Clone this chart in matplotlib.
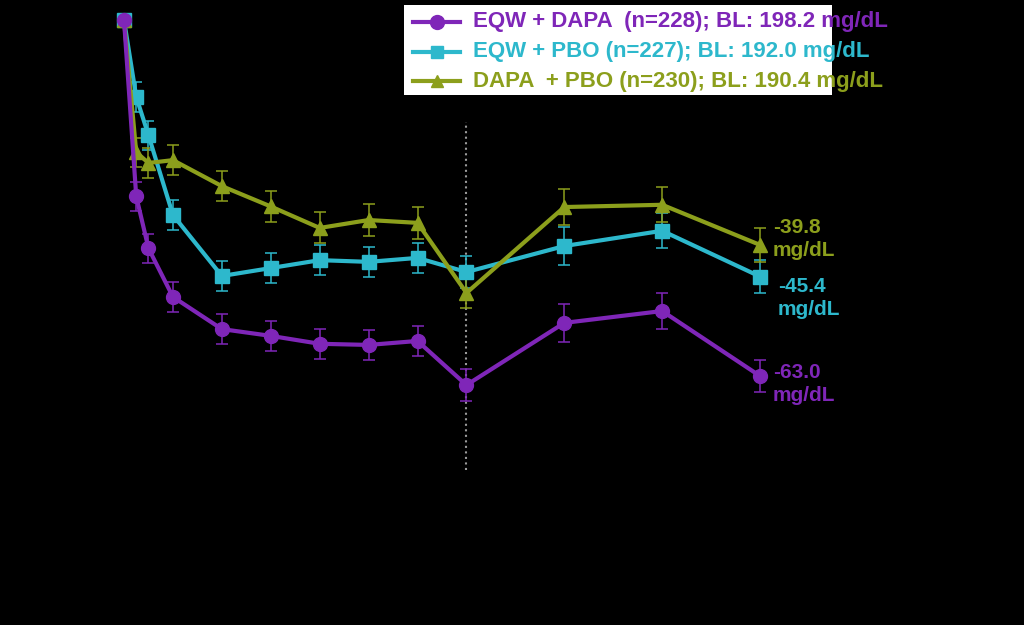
import matplotlib
matplotlib.use("Agg")
import matplotlib.pyplot as plt
from matplotlib.patches import Rectangle
from matplotlib.lines import Line2D

# weeks of visit
weeks = [0, 1, 2, 4, 8, 12, 16, 20, 24, 28, 36, 44, 52]

# change from baseline in FPG (mg/dL)
eqw_dapa = [0, -31.2, -40.4, -49.0, -54.7, -55.9, -57.3, -57.5, -56.8, -64.6, -53.6, -51.5, -63.0]
eqw_pbo = [0, -13.6, -20.4, -34.5, -45.3, -43.9, -42.5, -42.8, -42.1, -44.6, -40.0, -37.3, -45.4]
dapa_pbo = [0, -23.4, -25.3, -24.8, -29.4, -33.0, -36.8, -35.4, -35.9, -48.3, -33.1, -32.7, -39.8]

# standard errors
se_eqw_dapa = [0, 2.6, 2.6, 2.6, 2.7, 2.7, 2.7, 2.7, 2.7, 2.9, 3.3, 3.1, 2.8]
se_eqw_pbo = [0, 2.6, 2.6, 2.65, 2.65, 2.7, 2.7, 2.7, 2.7, 2.9, 3.3, 3.1, 3.0]
se_dapa_pbo = [0, 2.6, 2.6, 2.6, 2.65, 2.75, 2.75, 2.8, 2.8, 2.7, 3.2, 3.1, 3.0]

labels = ["EQW + DAPA  (n=228); BL: 198.2 mg/dL",
          "EQW + PBO (n=227); BL: 192.0 mg/dL",
          "DAPA  + PBO (n=230); BL: 190.4 mg/dL"]
end_labels = ["-63.0\nmg/dL", "-45.4\nmg/dL", "-39.8\nmg/dL"]

c_purple = "#7F26B8"
c_cyan = "#2DB8CC"
c_olive = "#8C9F1C"

plt.rcParams['font.family'] = ['Liberation Sans', 'DejaVu Sans']

fig = plt.figure(figsize=(10.24, 6.25), dpi=100, facecolor='black')
ax = fig.add_axes([0, 0, 1, 1])
ax.set_facecolor('black')
ax.axis('off')

# map axes to the picture: week 0 -> px 124, week 52 -> px 760; 0 -> px 20, -63 -> px 376
px_wk = (760 - 124) / 52
px_unit = (376 - 20) / 63
ax.set_xlim(-124 / px_wk, (1024 - 124) / px_wk)
ax.set_ylim(-(625 - 20) / px_unit, 20 / px_unit)

series = [
    (eqw_pbo, se_eqw_pbo, c_cyan, 's', 9.5),
    (dapa_pbo, se_dapa_pbo, c_olive, '^', 10.5),
    (eqw_dapa, se_eqw_dapa, c_purple, 'o', 10),
]
for vals, se, col, mk, ms in series:
    ax.errorbar(weeks, vals, yerr=se, color=col, lw=3.0, marker=mk, ms=ms,
                elinewidth=1.1, capsize=4, capthick=1.1, zorder=3)

# primary endpoint line at week 28
ylo, yhi = ax.get_ylim()
ax.axvline(28, ymin=(-79.6 - ylo) / (yhi - ylo), ymax=(-18.0 - ylo) / (yhi - ylo),
           color='#9a9a9a', ls=':', lw=1.5, zorder=1)

# end-point annotations
ax.text(53.05, eqw_dapa[-1] - 1.4, end_labels[0], color=c_purple, fontsize=15,
        fontweight='bold', va='center', ha='left', linespacing=1.25)
ax.text(53.45, eqw_pbo[-1] - 3.8, end_labels[1], color=c_cyan, fontsize=15,
        fontweight='bold', va='center', ha='left', linespacing=1.25)
ax.text(53.05, dapa_pbo[-1] + 1.05, end_labels[2], color=c_olive, fontsize=15,
        fontweight='bold', va='center', ha='left', linespacing=1.25)

# legend box drawn by hand (text runs past the white box as in the slide)
W, H = 1024, 625
fig.patches.append(Rectangle((404 / W, 1 - 95 / H), (832 - 404) / W, 90 / H,
                             transform=fig.transFigure, facecolor='white',
                             edgecolor='none', zorder=0))
leg_cols = [c_purple, c_cyan, c_olive]
leg_marks = [('o', 10), ('s', 9), ('^', 9)]
for i, (lab, col, (mk, ms)) in enumerate(zip(labels, leg_cols, leg_marks)):
    yy = 1 - (22 + 29.5 * i) / H
    fig.lines.append(Line2D([413 / W, 460 / W], [yy, yy], transform=fig.transFigure,
                            color=col, lw=3.0, marker=None))
    fig.lines.append(Line2D([437 / W], [yy], transform=fig.transFigure,
                            color=col, marker=mk, ms=ms, ls='none'))
    fig.text(473 / W, yy, lab, color=col, fontsize=16, fontweight='bold',
             va='center', ha='left')

plt.savefig('out.png', dpi=100, facecolor='black')
